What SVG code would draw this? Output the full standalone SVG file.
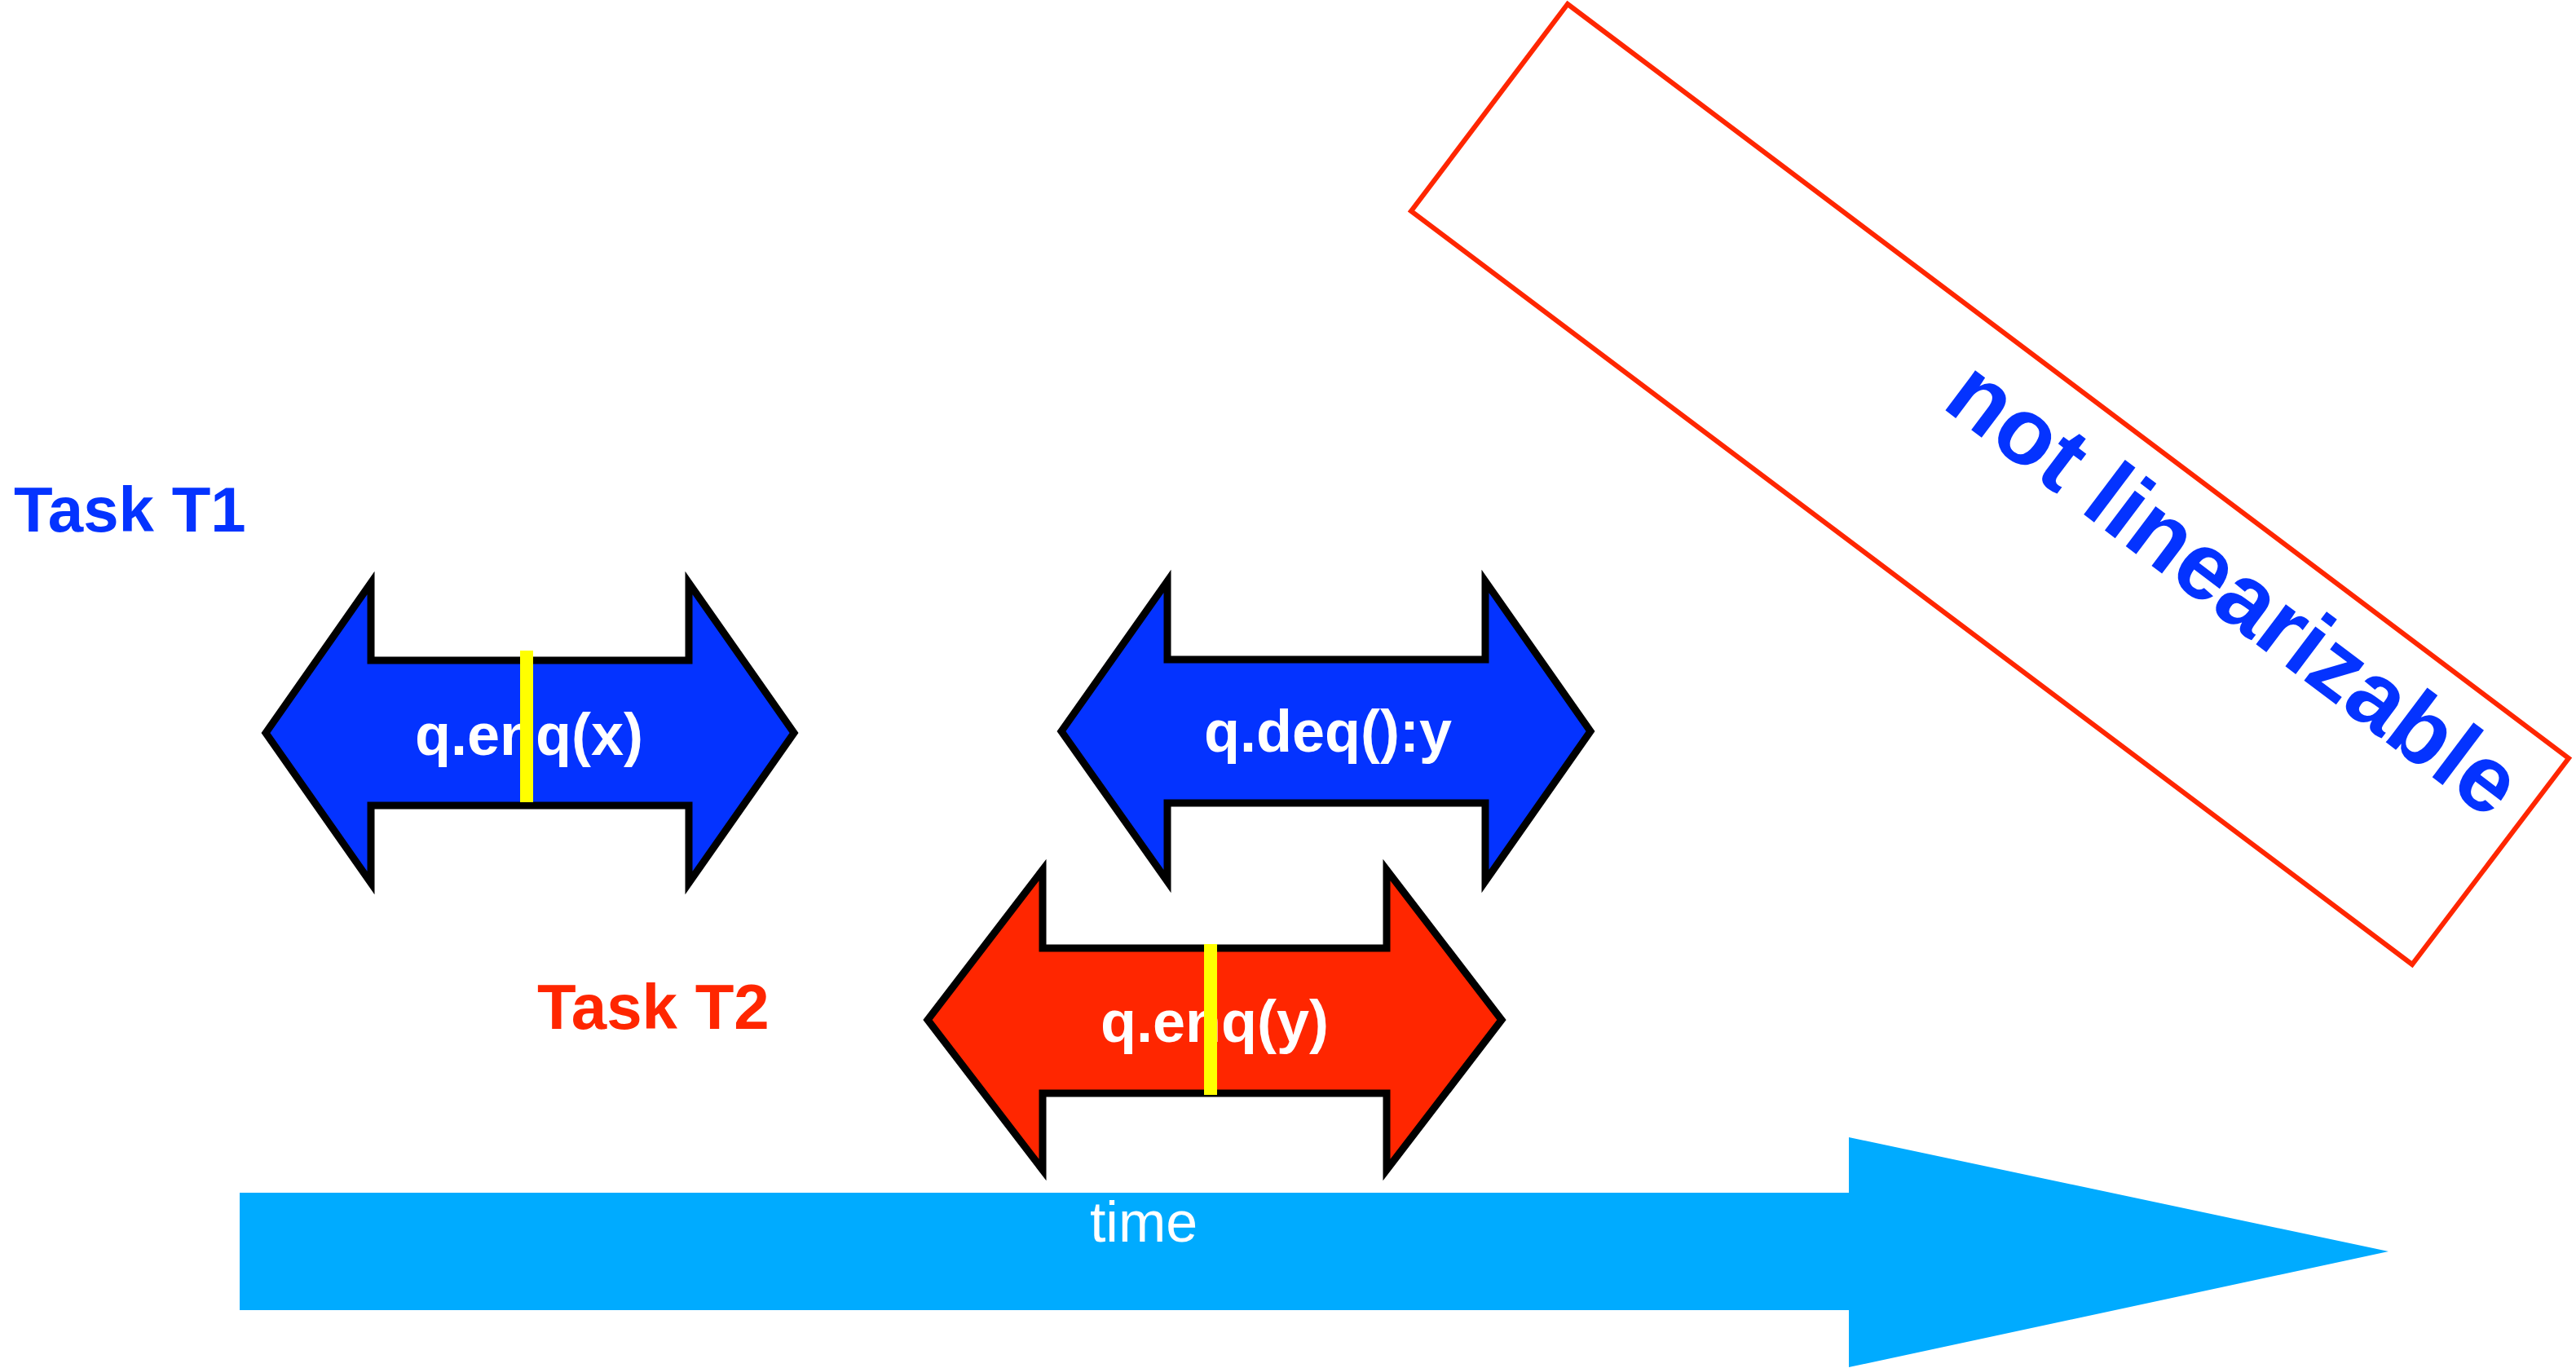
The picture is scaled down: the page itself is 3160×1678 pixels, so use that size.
<svg xmlns="http://www.w3.org/2000/svg" width="3160" height="1678" viewBox="0 0 3160 1678">
<style>
.arr{stroke:#000;stroke-width:9;stroke-linejoin:miter;stroke-miterlimit:10}
.blue{fill:#0433FF}
.red{fill:#FF2600}
.lbl{font-family:"Liberation Sans",Arial,Helvetica,sans-serif;font-weight:bold;font-size:72px;fill:#fff;text-anchor:middle}
.task{font-family:"Liberation Sans",Arial,Helvetica,sans-serif;font-weight:bold;font-size:78px}
.lin{fill:#FFFF00}
</style>
<rect width="3160" height="1678" fill="#fff"/>
<g id="time-arrow">
<polygon points="294,1463 2268,1463 2268,1395 2930,1535 2268,1677 2268,1607 294,1607" fill="#00ABFF"/>
<text x="1403" y="1523" font-family="'Liberation Sans',Arial,Helvetica,sans-serif" font-size="70" fill="#fff" text-anchor="middle">time</text>
</g>
<g id="not-linearizable">
<polygon points="1923,5 3151,930 2959,1183 1731,259" fill="none" stroke="#FF2600" stroke-width="6"/>
<text transform="translate(1923,5) rotate(37)" x="662" y="119" font-family="'Liberation Sans',Arial,Helvetica,sans-serif" font-weight="bold" font-size="116" fill="#0433FF">not linearizable</text>
</g>
<g id="task-t1-label">
<text class="task" x="17" y="652" fill="#0433FF">Task T1</text>
</g>
<g id="task-t2-label">
<text class="task" x="659" y="1262" fill="#FF2600">Task T2</text>
</g>
<g id="enq-x">
<polygon class="arr blue" points="326,899 455,715 455,810 845,810 845,715 974,899 845,1083 845,988 455,988 455,1083"/>
<text class="lbl" x="649" y="926">q.enq(x)</text>
<rect class="lin" x="638" y="798" width="16" height="186"/>
</g>
<g id="deq-y">
<polygon class="arr blue" points="1302,897 1432,713 1432,809 1822,809 1822,713 1951,897 1822,1081 1822,985 1432,985 1432,1081"/>
<text class="lbl" x="1629" y="922">q.deq():y</text>
</g>
<g id="enq-y">
<polygon class="arr red" points="1138,1251 1279,1067 1279,1163 1701,1163 1701,1067 1842,1251 1701,1435 1701,1341 1279,1341 1279,1435"/>
<text class="lbl" x="1490" y="1278">q.enq(y)</text>
<rect class="lin" x="1477" y="1158" width="16" height="185"/>
</g>
<g id="connectors"></g>
</svg>
